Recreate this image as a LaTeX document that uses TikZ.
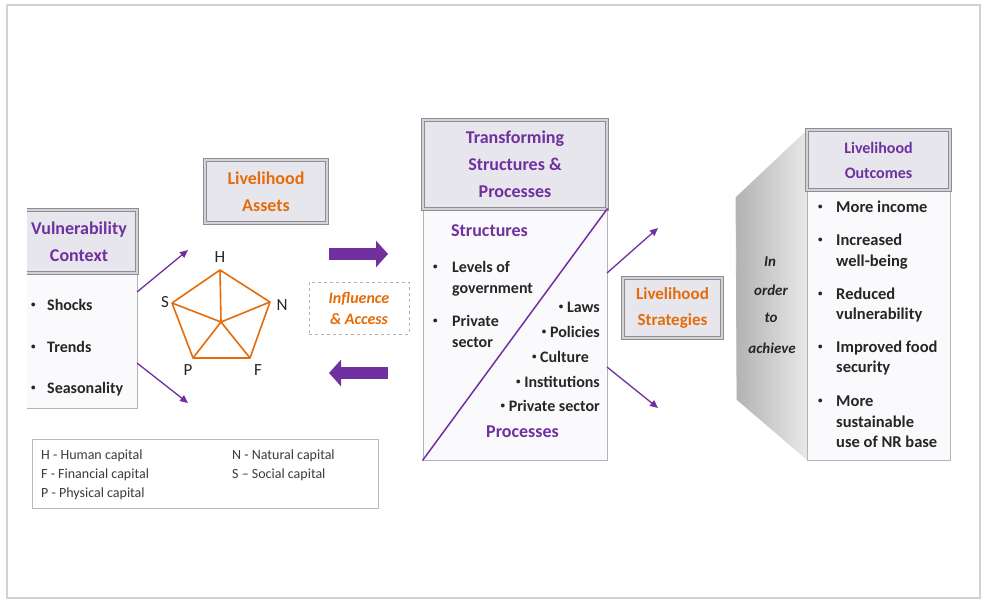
\documentclass[tikz,border=0pt]{standalone}
\usepackage{fontspec}
\setmainfont{Carlito}
\usetikzlibrary{arrows.meta,calc}
\definecolor{vpurple}{HTML}{7030A0}
\definecolor{vorange}{HTML}{E46C0A}
\definecolor{hdrfill}{HTML}{E6E6EC}
\definecolor{hdrdraw}{HTML}{8E8E92}
\definecolor{hdrin}{HTML}{D2D2D8}
\definecolor{bodydraw}{HTML}{B4B4B8}
\definecolor{txt}{HTML}{262626}
\definecolor{bodyfill}{HTML}{FAFAFC}
\tikzset{
  hdr/.style={draw=hdrdraw, double=hdrin, double distance=1.4pt, line width=0.9pt, fill=hdrfill, inner sep=0pt, align=center},
  bodybox/.style={draw=bodydraw, line width=1pt, fill=bodyfill, inner sep=0pt},
  htxt/.style={font=\bfseries\fontsize{18}{26.5}\selectfont},
  btxt/.style={font=\bfseries\fontsize{16}{20}\selectfont, text=txt, inner sep=0pt},
  ltxt/.style={font=\fontsize{14}{17}\selectfont, text=txt!90, inner sep=0pt, anchor=base west},
  thinarrow/.style={draw=vpurple, line width=1.3pt, -{Triangle[length=8pt,width=7pt]}},
  bigarrow/.style={draw=vpurple, line width=12pt, -{Triangle[length=12pt,width=26pt]}},
  pent/.style={draw=vorange, line width=1.6pt, line join=round},
  plab/.style={font=\fontsize{17}{20}\selectfont, text=txt, inner sep=0pt},
  ach/.style={font=\bfseries\itshape\fontsize{15}{18}\selectfont, text=txt, inner sep=0pt}
}
\newcommand{\dotb}{\raisebox{2.2pt}{\fontsize{9}{9}\selectfont\textbullet}}
\newcommand{\bul}[1]{\makebox[#1][l]{\dotb}}
\begin{document}
\begin{tikzpicture}[x=1pt,y=-1pt]
\useasboundingbox (0,0) rectangle (984,600);
\fill[white] (0,0) rectangle (984,600);
\draw[gray!35, line width=2pt] (7,5) rectangle (980,598);

% Vulnerability context
\begin{scope}
\clip (27,0) rectangle (200,600);
\node[bodybox, minimum width=116pt, minimum height=135pt] (vcb) at (79,340.5) {};
\node[hdr, minimum width=116pt, minimum height=63pt, htxt, text=vpurple] (vch) at (79,241.5) {Vulnerability\\Context};
\end{scope}
\node[btxt, anchor=base west] (vc1) at (31,310) {\bul{16pt}Shocks};
\node[btxt, anchor=base west] (vc2) at (31,352) {\bul{16pt}Trends};
\node[btxt, anchor=base west] (vc3) at (31,393) {\bul{16pt}Seasonality};

\coordinate (a1s) at (137,292);
\coordinate (a1e) at (188,250);
\coordinate (a2s) at (137,363);
\coordinate (a2e) at (188,403);
\draw[thinarrow] (a1s) -- (a1e);
\draw[thinarrow] (a2s) -- (a2e);

% Livelihood assets
\node[hdr, minimum width=122pt, minimum height=63pt, htxt, text=vorange] (lah) at (266,191.5) {Livelihood\\Assets};

% Pentagon
\coordinate (pH) at (220,270);
\coordinate (pN) at (270,302);
\coordinate (pF) at (250,358);
\coordinate (pP) at (193,358);
\coordinate (pS) at (172,303);
\coordinate (pC) at (221,322);
\draw[pent] (pH) -- (pN) -- (pF) -- (pP) -- (pS) -- cycle;
\draw[pent] (pC) -- (pH) (pC) -- (pN) (pC) -- (pF) (pC) -- (pP) (pC) -- (pS);
\node[plab] (lH) at (220,257) {H};
\node[plab] (lS) at (165,302) {S};
\node[plab] (lN) at (282,305) {N};
\node[plab] (lP) at (188,370) {P};
\node[plab] (lF) at (258,370) {F};

% Legend
\node[draw=gray!55, line width=1pt, fill=white, minimum width=346pt, minimum height=69pt, inner sep=0pt] (leg) at (205,473.5) {};
\node[ltxt] (lg1) at (41,459) {H - Human capital};
\node[ltxt] (lg2) at (41,478) {F - Financial capital};
\node[ltxt] (lg3) at (41,497) {P - Physical capital};
\node[ltxt] (lg4) at (232,459) {N - Natural capital};
\node[ltxt] (lg5) at (232,478) {S -- Social capital};

% Big arrows and influence
\coordinate (b1s) at (329,254);
\coordinate (b1e) at (388,254);
\coordinate (b2s) at (388,373);
\coordinate (b2e) at (329,373);
\draw[bigarrow] (b1s) -- (b1e);
\draw[bigarrow] (b2s) -- (b2e);
\node[draw=gray!60, dashed, line width=1pt, minimum width=100pt, minimum height=52pt, inner sep=0pt, align=center,
  font=\bfseries\itshape\fontsize{16}{21}\selectfont, text=vorange] (ia) at (359,308) {Influence\\\& Access};

% Transforming structures
\node[bodybox, minimum width=184pt, minimum height=251pt] (tspb) at (515,334.5) {};
\node[hdr, minimum width=184pt, minimum height=89pt, htxt, text=vpurple, font=\bfseries\fontsize{18}{27}\selectfont] (tsph) at (515,164.5) {Transforming\\Structures \&\\Processes};
\draw[vpurple, line width=1.5pt] (tspb.south west) -- (tspb.north east);
\node[htxt, text=vpurple, inner sep=0pt] (st) at (489.5,231) {Structures};
\node[htxt, text=vpurple, inner sep=0pt] (pr) at (522.5,432) {Processes};
\node[btxt, anchor=base west] (t1) at (433,272) {\bul{19pt}Levels of};
\node[btxt, anchor=base west] (t1b) at (452,293) {government};
\node[btxt, anchor=base west] (t2) at (433,326) {\bul{19pt}Private};
\node[btxt, anchor=base west] (t2b) at (452,347) {sector};
\node[btxt, anchor=base east] (r1) at (600,312) {\dotb\ Laws};
\node[btxt, anchor=base east] (r2) at (600,337) {\dotb\ Policies};
\node[btxt, anchor=base east] (r3) at (589,362) {\dotb\ Culture};
\node[btxt, anchor=base east] (r4) at (600,387) {\dotb\ Institutions};
\node[btxt, anchor=base east] (r5) at (600,411) {\dotb\ Private sector};

\coordinate (a3s) at (607,273);
\coordinate (a3e) at (658,228);
\coordinate (a4s) at (607,367);
\coordinate (a4e) at (658,408);
\draw[thinarrow] (a3s) -- (a3e);
\draw[thinarrow] (a4s) -- (a4e);

% Livelihood strategies
\node[hdr, minimum width=99pt, minimum height=60pt, htxt, text=vorange, font=\bfseries\fontsize{17}{26}\selectfont] (ls) at (672.5,308) {Livelihood\\Strategies};

% Wedge
\shade[left color=gray!60, right color=gray!18] (736,197) -- (807,130) -- (807,460) -- (737,400) -- cycle;
\draw[gray!55, line width=0.8pt] (736,197) -- (737,400);
\node[ach] (w1) at (770,262) {In};
\node[ach] (w2) at (771,290) {order};
\node[ach] (w3) at (771,318) {to};
\node[ach] (w4) at (772,348) {achieve};

% Livelihood outcomes
\node[bodybox, minimum width=143pt, minimum height=270pt] (lob) at (878.5,325) {};
\node[hdr, minimum width=143pt, minimum height=60pt, text=vpurple, font=\bfseries\fontsize{16}{25}\selectfont] (loh) at (878.5,160) {Livelihood\\Outcomes};
\begin{scope}[every node/.style={btxt, anchor=base west, font=\bfseries\fontsize{16.5}{20}\selectfont}]
\node (o1) at (818,212) {\bul{18pt}More income};
\node (o2) at (818,245) {\bul{18pt}Increased};
\node (o2b) at (836,266) {well-being};
\node (o3) at (818,299) {\bul{18pt}Reduced};
\node (o3b) at (836,319) {vulnerability};
\node (o4) at (818,352) {\bul{18pt}Improved food};
\node (o4b) at (836,372) {security};
\node (o5) at (818,406) {\bul{18pt}More};
\node (o5b) at (836,427) {sustainable};
\node (o5c) at (836,447) {use of NR base};
\end{scope}
\end{tikzpicture}
\end{document}
